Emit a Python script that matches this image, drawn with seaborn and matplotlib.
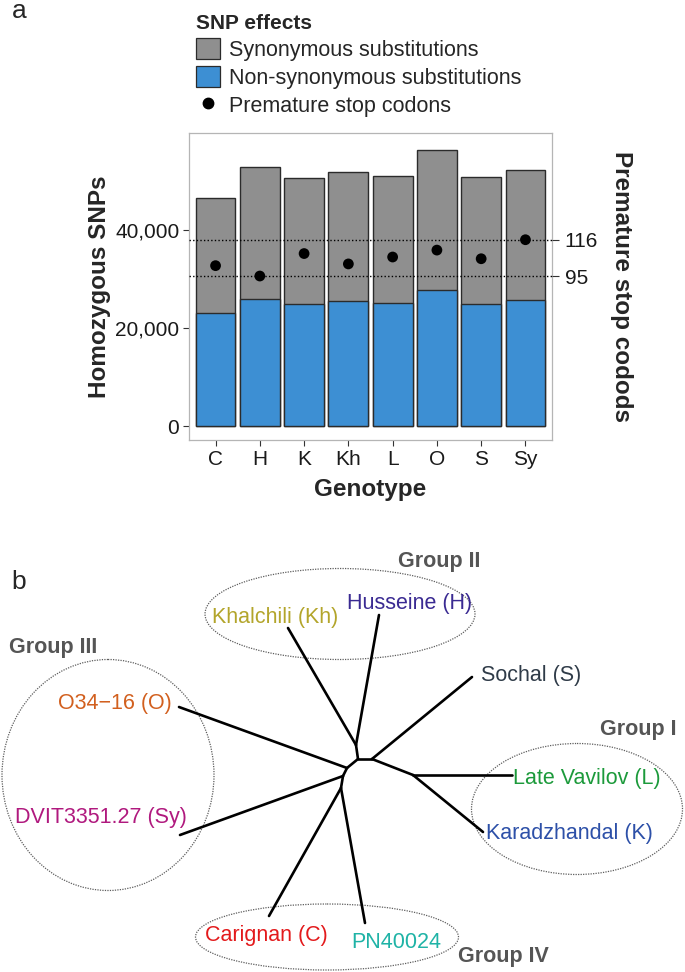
import numpy as np
import pandas as pd
import matplotlib
matplotlib.use("Agg")
import matplotlib.pyplot as plt
import seaborn as sns
from matplotlib.patches import Patch, Ellipse
from matplotlib.lines import Line2D
from matplotlib.ticker import FuncFormatter

# ---- panel a data ----
genotypes = ["C", "H", "K", "Kh", "L", "O", "S", "Sy"]
nonsyn = [23060, 25850, 24900, 25440, 25030, 27820, 24970, 25780]
syn = [23530, 26950, 25650, 26460, 26060, 28570, 25850, 26530]
stop_codons = [101, 95, 108, 102, 106, 110, 105, 116]
ref_lines = [95, 116]

# ---- panel b data (unrooted tree, layout) ----
node_names = ["Kh", "H", "J1", "A", "B", "S", "Cn", "L", "K", "D", "O", "E", "Sy", "F", "C", "PN"]
node_x = [288, 379, 356, 358, 372, 472, 413, 512, 483, 347, 179, 343, 180, 341, 269, 365]
node_y = [628, 615, 745, 759, 759, 677, 775, 775, 832, 768, 707, 776, 835, 788, 916, 923]
edges = [("Kh", "J1"), ("H", "J1"), ("J1", "A"), ("A", "B"), ("B", "S"), ("B", "Cn"),
         ("Cn", "L"), ("Cn", "K"), ("A", "D"), ("D", "O"), ("D", "E"), ("E", "Sy"),
         ("E", "F"), ("F", "C"), ("F", "PN")]

leaf_labels = ["Khalchili (Kh)", "Husseine (H)", "Sochal (S)", "O34\u221216 (O)", "DVIT3351.27 (Sy)",
               "Late Vavilov (L)", "Karadzhandal (K)", "Carignan (C)", "PN40024"]
leaf_lx = [212, 347, 481, 58, 15, 513, 486, 205, 351]
leaf_ly = [617, 603, 675, 703, 817, 778, 833, 935, 942]
leaf_colors = ["#b3a52b", "#3a2a92", "#2f3b48", "#d2601f", "#b0197e", "#1c9a3b", "#2d50a8", "#e31a1c", "#1fb3a6"]

groups = ["Group I", "Group II", "Group III", "Group IV"]
group_lx = [600, 398, 9, 458]
group_ly = [730, 561, 648, 956]
ell_cx = [577, 340, 108, 327]
ell_cy = [809, 614, 775, 937]
ell_w = [211, 270, 212, 263]
ell_h = [131, 91, 231, 66]

gray = "#8f8f8f"
blue = "#3d8fd3"

sns.set_style("white")
plt.rcParams["font.family"] = ["Liberation Sans", "DejaVu Sans"]

W, H = 685, 972
fig = plt.figure(figsize=(W / 100, H / 100), dpi=100)

# ---- panel a ----
ax = fig.add_axes([189 / W, 1 - 440 / H, (552 - 189) / W, (440 - 133) / H])
totals = [a + b for a, b in zip(syn, nonsyn)]
sns.barplot(x=genotypes, y=totals, color=gray, saturation=1, width=0.9,
            edgecolor="#2b2b2b", linewidth=1.0, ax=ax)
sns.barplot(x=genotypes, y=nonsyn, color=blue, saturation=1, width=0.9,
            edgecolor="#2b2b2b", linewidth=1.0, ax=ax)
ax.set_xlim(-0.6, 7.6)
ylo, yhi = -2850, 59800
ax.set_ylim(ylo, yhi)
ax.set_yticks([0, 20000, 40000])
ax.yaxis.set_major_formatter(FuncFormatter(lambda v, p: f"{int(v):,}"))
ax.tick_params(axis="both", length=4, width=0.8, color="#333333", labelsize=15,
               labelcolor="#1a1a1a", pad=3, left=True, bottom=True)
ax.set_xlabel("Genotype", fontsize=17.5, fontweight="bold", labelpad=7)
ax.set_ylabel("Homozygous SNPs", fontsize=17.5, fontweight="bold", labelpad=3)
for sp in ax.spines.values():
    sp.set_color("#b5b5b5")
    sp.set_linewidth(0.9)

# secondary axis: stop codons, linear map onto the SNP scale
k, c0 = 352.8, -2904
ax2 = ax.twinx()
ax2.set_ylim((ylo - c0) / k, (yhi - c0) / k)
sns.scatterplot(x=np.arange(len(genotypes)), y=stop_codons, color="black", s=60,
                edgecolor="none", ax=ax2, legend=False, zorder=5)
for v in ref_lines:
    ax2.axhline(v, xmin=0, xmax=1.0, color="black", lw=1.0, ls=(0, (1, 1.6)))
ax2.set_yticks(ref_lines)
ax2.tick_params(axis="y", length=5, width=0.8, color="#333333", labelsize=15,
                labelcolor="#1a1a1a", right=True, pad=4)
ax2.set_ylabel("Premature stop codods", fontsize=17.5, fontweight="bold",
               rotation=270, labelpad=25)
for sp in ax2.spines.values():
    sp.set_visible(False)

handles = [Patch(facecolor=gray, edgecolor="#2b2b2b", lw=0.9),
           Patch(facecolor=blue, edgecolor="#2b2b2b", lw=0.9),
           Line2D([], [], marker="o", ls="none", color="black", markersize=7.5)]
labels = ["Synonymous substitutions", "Non-synonymous substitutions", "Premature stop codons"]
fig.legend(handles, labels, loc="upper left", bbox_to_anchor=(196 / W, 1 - 14 / H),
           frameon=False, fontsize=15.5, title="SNP effects",
           title_fontproperties={"weight": "bold", "size": 15}, alignment="left",
           handlelength=1.1, handleheight=1.1, handletextpad=0.45, labelspacing=0.25,
           borderpad=0, borderaxespad=0)

fig.text(12 / W, 1 - 18 / H, "a", fontsize=19, va="baseline", ha="left")
fig.text(11 / W, 1 - 589 / H, "b", fontsize=19, va="baseline", ha="left")

# ---- panel b: tree ----
axb = fig.add_axes([0, 0, 1, 1 - 532 / H])

pos = {n: (x, y) for n, x, y in zip(node_names, node_x, node_y)}
rows = []
for i, (a, b) in enumerate(edges):
    rows.append({"x": pos[a][0], "y": pos[a][1], "edge": i})
    rows.append({"x": pos[b][0], "y": pos[b][1], "edge": i})
tree_df = pd.DataFrame(rows)
sns.lineplot(data=tree_df, x="x", y="y", units="edge", estimator=None, sort=False,
             color="black", lw=1.9, ax=axb, legend=False)
axb.set_xlim(0, W)
axb.set_ylim(H, 532)
axb.axis("off")

for cx, cy, w, h in zip(ell_cx, ell_cy, ell_w, ell_h):
    axb.add_patch(Ellipse((cx, cy), w, h, fill=False, edgecolor="#5e5e5e",
                          lw=0.9, ls=(0, (1, 1))))

for t, x, y, col in zip(leaf_labels, leaf_lx, leaf_ly, leaf_colors):
    axb.text(x, y, t, color=col, fontsize=15.5, ha="left", va="center")

for t, x, y in zip(groups, group_lx, group_ly):
    axb.text(x, y, t, color="#555555", fontsize=15.5, fontweight="bold", ha="left", va="center")

fig.savefig("out.png", dpi=100)
